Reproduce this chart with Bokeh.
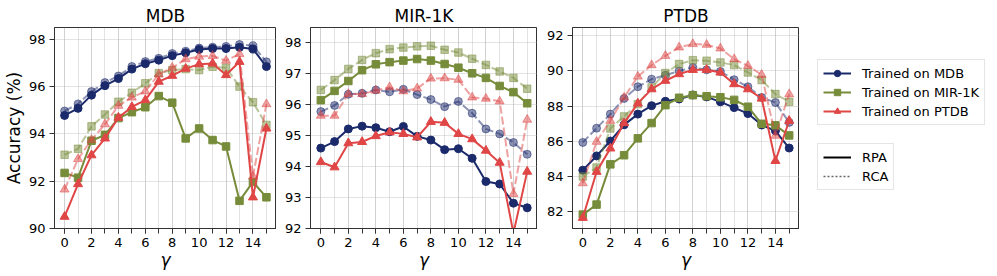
from bokeh.plotting import figure
from bokeh.layouts import row
from bokeh.models import FixedTicker, Range1d, Legend, LegendItem, ColumnDataSource
from bokeh.embed import file_html
from bokeh.resources import INLINE

gamma = list(range(16))
x_major_ticks = [0, 2, 4, 6, 8, 10, 12, 14]
panel_titles = ["MDB", "MIR-1K", "PTDB"]
model_names = ["MDB", "MIR-1K", "PTDB"]

# Test set: MDB
mdb_rpa_mdb = [94.78, 95.08, 95.64, 96.04, 96.34, 96.74, 96.97, 97.12, 97.31, 97.43, 97.57, 97.61, 97.61, 97.66, 97.59, 96.85]
mdb_rca_mdb = [94.97, 95.27, 95.79, 96.17, 96.45, 96.85, 97.06, 97.20, 97.40, 97.50, 97.63, 97.67, 97.70, 97.78, 97.73, 97.05]
mdb_rpa_mir = [92.35, 92.15, 93.71, 93.96, 94.67, 94.92, 95.13, 95.60, 95.32, 93.81, 94.23, 93.74, 93.47, 91.17, 91.97, 91.32]
mdb_rca_mir = [93.12, 93.37, 94.32, 94.82, 95.36, 95.74, 96.14, 96.57, 96.70, 96.74, 96.70, 96.84, 96.80, 96.00, 95.34, 94.38]
mdb_rpa_ptdb = [90.50, 91.88, 93.10, 93.81, 94.69, 95.14, 95.43, 96.21, 96.46, 96.76, 96.95, 96.98, 96.49, 97.05, 91.32, 94.23]
mdb_rca_ptdb = [91.65, 92.94, 93.75, 94.41, 95.19, 95.54, 95.80, 96.52, 96.80, 97.16, 97.27, 97.30, 97.10, 97.38, 92.20, 95.26]

# Test set: MIR-1K
mir_rpa_mdb = [94.60, 94.81, 95.22, 95.31, 95.26, 95.13, 95.30, 94.98, 94.86, 94.55, 94.58, 94.27, 93.52, 93.44, 92.82, 92.67]
mir_rca_mdb = [95.78, 95.98, 96.34, 96.37, 96.48, 96.42, 96.50, 96.33, 96.17, 95.94, 96.11, 95.73, 95.22, 95.06, 94.78, 94.40]
mir_rpa_mir = [96.15, 96.45, 96.77, 97.12, 97.31, 97.38, 97.43, 97.48, 97.43, 97.32, 97.20, 97.02, 96.87, 96.61, 96.41, 96.05]
mir_rca_mir = [96.48, 96.80, 97.16, 97.45, 97.67, 97.80, 97.85, 97.89, 97.91, 97.78, 97.69, 97.49, 97.29, 97.08, 96.87, 96.52]
mir_rpa_ptdb = [94.15, 93.98, 94.76, 94.80, 94.99, 95.11, 95.06, 94.95, 95.45, 95.42, 95.06, 94.89, 94.52, 94.13, 91.85, 93.84]
mir_rca_ptdb = [95.65, 95.65, 96.35, 96.35, 96.46, 96.57, 96.44, 96.53, 96.85, 96.86, 96.81, 96.24, 96.20, 96.11, 93.12, 95.52]

# Test set: PTDB
ptdb_rpa_mdb = [84.35, 85.16, 86.01, 86.93, 87.54, 88.02, 88.27, 88.40, 88.63, 88.52, 88.24, 87.91, 87.57, 86.92, 86.59, 85.61]
ptdb_rca_mdb = [85.93, 86.74, 87.54, 88.43, 89.10, 89.53, 89.75, 90.00, 90.20, 90.06, 89.97, 89.50, 89.10, 88.49, 88.20, 87.07]
ptdb_rpa_mir = [81.82, 82.39, 84.68, 85.20, 86.16, 87.03, 88.05, 88.47, 88.62, 88.56, 88.50, 88.35, 87.96, 86.99, 86.90, 86.33]
ptdb_rca_mir = [83.99, 84.50, 86.72, 87.41, 88.11, 89.06, 89.88, 90.39, 90.61, 90.58, 90.48, 90.33, 89.91, 89.48, 88.68, 88.24]
ptdb_rpa_ptdb = [81.64, 84.26, 85.59, 87.03, 88.15, 88.96, 89.44, 89.82, 90.06, 90.06, 89.91, 89.25, 88.96, 88.43, 84.88, 87.16]
ptdb_rca_ptdb = [83.61, 85.97, 87.16, 88.49, 89.68, 90.33, 90.86, 91.34, 91.53, 91.49, 91.28, 90.67, 90.29, 89.78, 86.31, 88.68]

y_ranges = [(90.0, 98.5), (92.0, 98.5), (81.03, 92.47)]
y_ticks = [[90, 92, 94, 96, 98], [92, 93, 94, 95, 96, 97, 98], [82, 84, 86, 88, 90, 92]]
x_range = (-0.75, 15.75)

COLORS = ["#1b2a6b", "#778c3a", "#e04646"]
MARKERS = ["circle", "square", "triangle"]
SIZES = [8, 7.5, 9]
FONT = "DejaVu Sans"
H = 276
TOP = 27
BOTTOM = 48

panel_data = [
    [(mdb_rpa_mdb, mdb_rca_mdb), (mdb_rpa_mir, mdb_rca_mir), (mdb_rpa_ptdb, mdb_rca_ptdb)],
    [(mir_rpa_mdb, mir_rca_mdb), (mir_rpa_mir, mir_rca_mir), (mir_rpa_ptdb, mir_rca_ptdb)],
    [(ptdb_rpa_mdb, ptdb_rca_mdb), (ptdb_rpa_mir, ptdb_rca_mir), (ptdb_rpa_ptdb, ptdb_rca_ptdb)],
]


def make_panel(idx, width, left_border):
    y0, y1 = y_ranges[idx]
    p = figure(width=width, height=H, title=panel_titles[idx],
               x_range=Range1d(*x_range), y_range=Range1d(y0, y1),
               output_backend="svg", toolbar_location=None,
               min_border_left=left_border, min_border_right=0,
               min_border_top=TOP, min_border_bottom=BOTTOM)
    p.title.align = "center"
    p.title.text_font = FONT
    p.title.text_font_size = "17px"
    p.title.text_font_style = "normal"
    p.title.text_color = "black"
    p.title.standoff = 4

    for k, (rpa, rca) in enumerate(panel_data[idx]):
        c = COLORS[k]
        p.line(gamma, rpa, line_color=c, line_width=2)
        p.scatter(gamma, rpa, marker=MARKERS[k], size=SIZES[k], fill_color=c, line_color=c)
        p.line(gamma, rca, line_color=c, line_width=2, line_dash="8 3", line_alpha=0.5)
        p.scatter(gamma, rca, marker=MARKERS[k], size=SIZES[k], fill_color=c, line_color=c,
                  fill_alpha=0.5, line_alpha=0.5)

    p.xaxis.ticker = FixedTicker(ticks=x_major_ticks, minor_ticks=gamma)
    p.yaxis.ticker = FixedTicker(ticks=y_ticks[idx])
    p.xaxis.axis_label = "γ"
    p.xaxis.axis_label_text_font_style = "italic"
    if idx == 0:
        p.yaxis.axis_label = "Accuracy (%)"
        p.yaxis.axis_label_text_font_style = "normal"
    for ax in (p.xaxis, p.yaxis):
        ax.axis_label_text_font = FONT
        ax.axis_label_text_font_size = "17px"
        ax.axis_label_text_color = "black"
        ax.major_label_text_font = FONT
        ax.major_label_text_font_size = "13px"
        ax.major_label_text_color = "black"
        ax.axis_line_color = "#333333"
        ax.major_tick_line_color = "#333333"
        ax.minor_tick_line_color = "#333333"
        ax.major_tick_out = 5
        ax.major_tick_in = 0
    p.xaxis.minor_tick_out = 5
    p.xaxis.minor_tick_in = 0
    p.yaxis.minor_tick_line_color = None
    p.xaxis.major_label_standoff = 4
    p.xaxis.axis_label_standoff = 0
    p.yaxis.major_label_standoff = 4
    p.yaxis.axis_label_standoff = 2

    p.xgrid.grid_line_color = "#b0b0b0"
    p.xgrid.grid_line_alpha = 0.35
    p.xgrid.minor_grid_line_color = "#b0b0b0"
    p.xgrid.minor_grid_line_alpha = 0.35
    p.ygrid.grid_line_color = "#b0b0b0"
    p.ygrid.grid_line_alpha = 0.35
    p.outline_line_color = "#333333"
    p.outline_line_width = 1
    p.outline_line_alpha = 1
    return p


p1 = make_panel(0, 276, 49)
p2 = make_panel(1, 261, 34)
p3 = make_panel(2, 262, 35)

# Legend panel
lp = figure(width=196, height=H, x_range=Range1d(0, 1), y_range=Range1d(0, 1),
            output_backend="svg", toolbar_location=None,
            x_axis_location=None, y_axis_location=None,
            min_border_left=0, min_border_right=0,
            min_border_top=TOP, min_border_bottom=BOTTOM)
lp.grid.visible = False
lp.outline_line_color = None
placeholder = ColumnDataSource(data=dict(x=[float("nan")], y=[float("nan")]))

items1 = []
for k, name in enumerate(model_names):
    lr = lp.line("x", "y", source=placeholder, line_color=COLORS[k], line_width=2)
    sr = lp.scatter("x", "y", source=placeholder, marker=MARKERS[k], size=5,
                    fill_color=COLORS[k], line_color=COLORS[k])
    items1.append(LegendItem(label="Trained on " + name, renderers=[lr, sr]))

r_rpa = lp.line("x", "y", source=placeholder, line_color="black", line_width=2)
r_rca = lp.line("x", "y", source=placeholder, line_color="black", line_alpha=0.6,
                line_width=1.5, line_dash="2 2")
items2 = [LegendItem(label="RPA", renderers=[r_rpa]), LegendItem(label="RCA", renderers=[r_rca])]


def style_legend(leg):
    leg.label_text_font = FONT
    leg.label_text_font_size = "13px"
    leg.label_text_color = "black"
    leg.glyph_width = 28
    leg.glyph_height = 16
    leg.label_height = 16
    leg.label_standoff = 11
    leg.spacing = 3
    leg.padding = 5
    leg.margin = 0
    leg.border_line_color = "#cccccc"
    leg.border_line_width = 1
    leg.background_fill_alpha = 1


leg1 = Legend(items=items1, location=(18, 103))
leg2 = Legend(items=items2, location=(18, 38))
style_legend(leg1)
style_legend(leg2)
lp.add_layout(leg1)
lp.add_layout(leg2)

layout = row(p1, p2, p3, lp)
open("out.html", "w").write(file_html(layout, INLINE))
